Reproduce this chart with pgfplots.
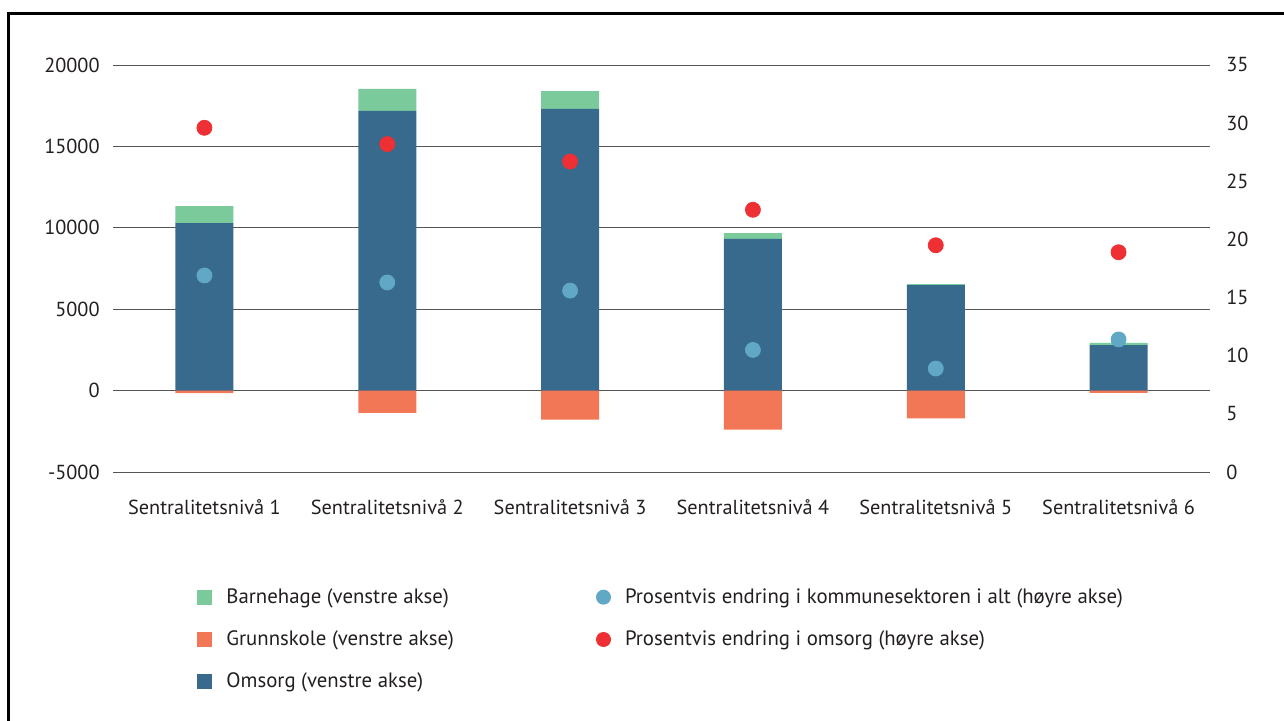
\documentclass[border=0pt]{standalone}
\usepackage{pgfplots}
\usepackage{pgfplotstable}
\pgfplotsset{compat=1.18}
\usepackage{fontspec}
\setmainfont{PT Sans}
\definecolor{cGreen}{HTML}{7BCA9C}
\definecolor{cOrange}{HTML}{F27757}
\definecolor{cNavy}{HTML}{376A8C}
\definecolor{cBlue}{HTML}{60A8C6}
\definecolor{cRed}{HTML}{EE2F33}
\definecolor{cGrid}{HTML}{555555}
\definecolor{cText}{HTML}{231F20}

\pgfplotstableread{
x Omsorg Barnehage Grunnskole Total Omsorgpct
0 10290 1040 -150 16.9 29.6
1 17180 1350 -1370 16.3 28.2
2 17300 1100 -1780 15.6 26.7
3 9325 350 -2390 10.5 22.55
4 6485 60 -1700 8.9 19.5
5 2800 125 -140 11.4 18.9
}\data

\pgfplotsset{
  sqleg/.style={legend image code/.code={\fill[##1] (0pt,-3.75pt) rectangle (7.5pt,3.75pt);}},
  dotleg/.style={legend image code/.code={\fill[##1] (3.75pt,0pt) circle (3.75pt);}},
  base/.style={scale only axis, width=548.5pt, height=203.5pt,
    at={(56.5pt,124pt)}, anchor=south west,
    xmin=-0.5, xmax=5.5,
    axis line style={draw=none}, major tick length=0pt,
    scaled y ticks=false,
    /pgf/number format/assume math mode=true,
    /pgf/number format/1000 sep={},
    tick label style={font=\fontsize{10.15}{12}\selectfont, text=cText}},
}

\begin{document}
\begin{tikzpicture}
\useasboundingbox (0,0) rectangle (642pt,360pt);
\draw[line width=1.5pt, black] (4pt,-2pt) -- (4pt,353.5pt) -- (644pt,353.5pt);

% left axis: grid + stacked positive bars
\begin{axis}[base,
  ymin=-5000, ymax=20000,
  ytick={-5000,0,5000,10000,15000,20000},
  yticklabels={-5000,0,5000,10000,15000,20000},
  ymajorgrids, grid style={cGrid, line width=0.5pt},
  yticklabel style={anchor=east, inner sep=0pt, xshift=-6.5pt},
  xtick={0,1,2,3,4,5},
  xticklabels={Sentralitetsnivå 1,Sentralitetsnivå 2,Sentralitetsnivå 3,Sentralitetsnivå 4,Sentralitetsnivå 5,Sentralitetsnivå 6},
  xticklabel style={anchor=center, inner sep=0pt, yshift=-17.5pt},
  ybar stacked, bar width=29pt,
]
\addplot[fill=cNavy, draw=none] table[x=x, y=Omsorg] {\data};
\addplot[fill=cGreen, draw=none] table[x=x, y=Barnehage] {\data};
\end{axis}

% negative bars
\begin{axis}[base,
  ymin=-5000, ymax=20000,
  xtick=\empty, ytick=\empty,
  ybar, bar width=29pt, bar shift=0pt,
]
\addplot[fill=cOrange, draw=none] table[x=x, y=Grunnskole] {\data};
\end{axis}

% right axis: dots + legend
\begin{axis}[base,
  ymin=0, ymax=35,
  ytick={0,5,10,15,20,25,30,35},
  yticklabels={0,5,10,15,20,25,30,35},
  yticklabel pos=right,
  yticklabel style={anchor=west, inner sep=0pt, xshift=8pt},
  xtick=\empty,
  legend columns=2,
  legend style={at={(0.0766,-0.2847)}, anchor=north west, draw=none, fill=none,
    inner sep=0pt, row sep=12.25pt,
    font=\fontsize{10.4}{12}\selectfont, text=cText,
    nodes={inner sep=0pt},
    /tikz/every odd column/.append style={column sep=7pt},
    /tikz/every even column/.append style={column sep=71pt}},
  legend cell align=left,
]
\addlegendimage{sqleg, fill=cGreen, draw=none}
\addlegendentry{Barnehage (venstre akse)}
\addlegendimage{dotleg, fill=cBlue, draw=none}
\addlegendentry{Prosentvis endring i kommunesektoren i alt (høyre akse)}
\addlegendimage{sqleg, fill=cOrange, draw=none}
\addlegendentry{Grunnskole (venstre akse)}
\addlegendimage{dotleg, fill=cRed, draw=none}
\addlegendentry{Prosentvis endring i omsorg (høyre akse)}
\addlegendimage{sqleg, fill=cNavy, draw=none}
\addlegendentry{Omsorg (venstre akse)}
\addplot[forget plot, only marks, mark=*, mark size=3.75pt, color=cBlue, mark options={draw=none, fill=cBlue}] table[x=x, y=Total] {\data};
\addplot[forget plot, only marks, mark=*, mark size=3.75pt, color=cRed, mark options={draw=none, fill=cRed}] table[x=x, y=Omsorgpct] {\data};
\end{axis}
\end{tikzpicture}
\end{document}
